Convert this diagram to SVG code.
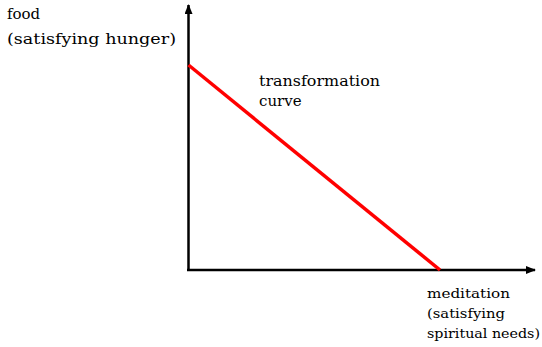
<svg xmlns="http://www.w3.org/2000/svg" width="542" height="347" viewBox="0 0 542 347">
<style>
.ax{stroke:#000;stroke-width:2.5;fill:none}
.t{font-family:"DejaVu Serif",serif;fill:#000}
</style>
<defs>
<marker id="ah" markerWidth="10" markerHeight="8" refX="9" refY="4" orient="auto" markerUnits="userSpaceOnUse"><path d="M0,0 L10,4 L0,8 Z" fill="#000"/></marker>
</defs>
<rect width="542" height="347" fill="#fff"/>
<g id="connectors">
<line class="ax" x1="188.5" y1="271" x2="188.5" y2="5" marker-end="url(#ah)"/>
<line class="ax" x1="187" y1="270" x2="535" y2="270" marker-end="url(#ah)"/>
<line x1="188.5" y1="65" x2="440" y2="270" stroke="#f00" stroke-width="3.5"/>
</g>
<g id="y-label">
<text class="t" x="7" y="19" font-size="15">food</text>
<text class="t" x="7" y="44" font-size="15" textLength="169" lengthAdjust="spacingAndGlyphs">(satisfying hunger)</text>
</g>
<g id="curve-label">
<text class="t" x="259" y="86" font-size="15" textLength="121" lengthAdjust="spacingAndGlyphs">transformation</text>
<text class="t" x="259" y="106" font-size="15">curve</text>
</g>
<g id="x-label">
<text class="t" x="427" y="298" font-size="13" textLength="83" lengthAdjust="spacingAndGlyphs">meditation</text>
<text class="t" x="427" y="318" font-size="13" textLength="78" lengthAdjust="spacingAndGlyphs">(satisfying</text>
<text class="t" x="427" y="338" font-size="13" textLength="113" lengthAdjust="spacingAndGlyphs">spiritual needs)</text>
</g>
</svg>
